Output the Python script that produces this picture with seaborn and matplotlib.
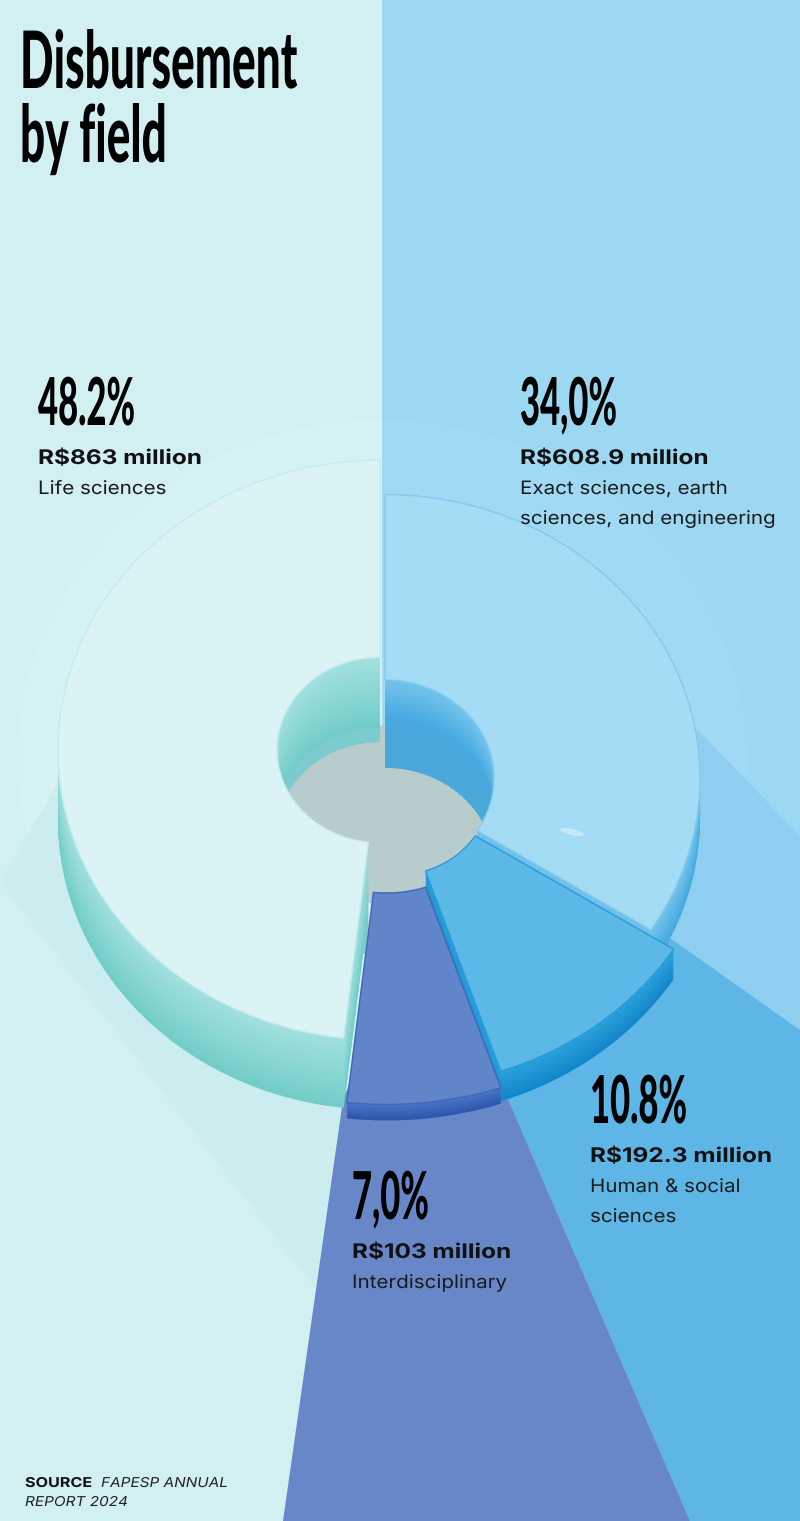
import numpy as np
import matplotlib
matplotlib.use("Agg")
import matplotlib.pyplot as plt
import seaborn as sns
from matplotlib.patches import Polygon, Ellipse, Rectangle
from matplotlib.patheffects import AbstractPathEffect
from matplotlib.transforms import Affine2D

# ---------------- data ----------------
fields = ["Exact sciences, earth\nsciences, and engineering",
          "Human & social\nsciences",
          "Interdisciplinary",
          "Life sciences"]
shares = [34.0, 10.8, 7.0, 48.2]
share_labels = ["34,0%", "10.8%", "7,0%", "48.2%"]
amounts_million = [608.9, 192.3, 103, 863]
title_lines = ["Disbursement", "by field"]
source_head = "SOURCE"
source_lines = ["FAPESP ANNUAL", "REPORT 2024"]

# ---------------- style ----------------
sns.set_theme(style="white")
HEAVY = ["Lato", "Roboto", "DejaVu Sans"]
BODY = ["Inter", "DejaVu Sans"]
plt.rcParams["font.family"] = BODY

W, H = 800, 1521
K = 0.9  # vertical squash of the tilted donut

top_colors = ["#a4dcf5", "#5cb9e7", "#6085c9", "#dcf3f6"]
edge_colors = ["#86c9ee", "#2b9ad6", "#3f67bb", "#c4ebee"]
side_top = ["#74c4ec", "#2aa1dc", "#4a74c6", "#a2e0df"]
side_bottom = ["#45a9df", "#1386ca", "#2d56ae", "#72cdc7"]
wall_colors = ["#4aa8da", "#1386ca", "#2d56ae", "#7ccbcd"]
# per slice geometry in pixels: centre x, centre y, outer R, inner r, height, inner-wall depth
geom = [(385, 778, 315, 109, 40, 88),
        (395, 790, 330, 95, 30, 30),
        (387, 785, 355, 120, 16, 16),
        (380, 750, 322, 103, 70, 85)]
draw_order = [0, 3, 1, 2]

# text anchors (pixels, baseline)
label_pos = [(520, 425), (590, 1123), (352, 1219), (38, 425)]


class Stretch(AbstractPathEffect):
    """Horizontally scale glyph outlines (text stays a Text artist)."""
    def __init__(self, sx):
        super().__init__()
        self.sx = sx

    def draw_path(self, renderer, gc, tpath, affine, rgbFace=None):
        renderer.draw_path(gc, tpath, Affine2D().scale(self.sx, 1.0) + affine, rgbFace)


fig = plt.figure(figsize=(8, 15.21), dpi=100)

# ---------------- background ----------------
bg = fig.add_axes([0, 0, 1, 1], zorder=0)
bg.set_xlim(0, W)
bg.set_ylim(H, 0)
bg.set_axis_off()

def poly(pts, color, alpha=1.0):
    bg.add_patch(Polygon(pts, closed=True, facecolor=color, edgecolor="none", lw=0, alpha=alpha))

poly([(0, 0), (382, 0), (382, H), (0, H)], "#d2eff2")
poly([(382, 0), (W, 0), (W, H), (382, H)], "#9dd8f3")
# faint halo behind donut
for (x0, x1, col) in [(0, 382, "#d6f1f4"), (382, W, "#9fd9f4")]:
    e = Ellipse((382, 760), 2 * 365, 2 * 340, facecolor=col, edgecolor="none")
    bg.add_patch(e)
    e.set_clip_path(Rectangle((x0, 0), x1 - x0, H, transform=bg.transData))
# light beams
poly([(0, 882), (60, 780), (345, 1110), (333, 1311)], "#cbedef")
poly([(697, 729), (800, 836), (800, 1030), (663, 933)], "#8ecfef")
poly([(470, 840), (663, 933), (800, 1030), (800, H), (690, H), (501, 1083)], "#5db6e5")
poly([(343, 1100), (425, 890), (501, 1083), (690, H), (283, H)], "#6887c8")

# ---------------- donut ----------------
ax = fig.add_axes([0, 0, 1, 1], zorder=2)
ax.set_facecolor("none")

def to_data(xp, yp):
    return (xp, (H - yp) / K)

ax.add_patch(Ellipse(to_data(392, 815), 2 * 112, 2 * 90 / K, facecolor="#b9cccd", edgecolor="none"))

def one_wedge(i, R, r, centre, color, ec="none", lw=0.0):
    ws, _ = ax.pie(shares, radius=R, center=centre, startangle=90, counterclock=False,
                   colors=[color] * len(shares), labeldistance=None,
                   wedgeprops=dict(width=R - r, linewidth=lw, edgecolor=ec), frame=True)
    for j, w in enumerate(ws):
        if j != i:
            w.remove()
    return ws[i]

for i in draw_order:
    cx, cy, R, r, h, hw = geom[i]
    # deeper inner wall (only seen through the hole)
    if hw > h:
        for d in np.linspace(hw, h, int((hw - h) / 1.5)):
            one_wedge(i, r + 30, r, to_data(cx, cy + d), wall_colors[i])
    n = max(int(h / 1.5), 2)
    pal = sns.blend_palette([side_bottom[i], side_top[i]], n)
    for k, d in enumerate(np.linspace(h, 1, n)):
        one_wedge(i, R, r, to_data(cx, cy + d), pal[k])
    one_wedge(i, R, r, to_data(cx, cy), top_colors[i], ec=edge_colors[i], lw=1.0)

# small glossy glare on the exact-sciences slice
ax.add_patch(Ellipse(to_data(572, 832), 24, 6 / K, angle=-15, facecolor="white",
                     edgecolor="none", alpha=0.4))

ax.set_aspect("auto")
ax.set_autoscale_on(False)
ax.set_xlim(0, W)
ax.set_ylim(0, H / K)
ax.set_axis_off()

# ---------------- text ----------------
tx = fig.add_axes([0, 0, 1, 1], zorder=3)
tx.set_xlim(0, W)
tx.set_ylim(H, 0)
tx.set_axis_off()
renderer = fig.canvas.get_renderer()

def put(x, y, s, size, family, weight="normal", style="normal", color="black",
        target_w=None, sx=None):
    t = tx.text(x, y, s, fontsize=size, fontweight=weight, fontstyle=style, family=family,
                color=color, ha="left", va="baseline")
    if sx is None and target_w is not None:
        sx = target_w / t.get_window_extent(renderer).width
    if sx is not None:
        t.set_path_effects([Stretch(sx)])
    return sx

sx_title = put(20, 88, title_lines[0], 57, HEAVY, weight="black", target_w=277)
put(20, 162, title_lines[1], 57, HEAVY, weight="black", sx=sx_title)

sx_pct = put(label_pos[3][0], label_pos[3][1], share_labels[3], 47.5, HEAVY,
             weight="black", target_w=97)
sx_bold = None
sx_reg = None
for i in [3, 0, 1, 2]:
    x, y = label_pos[i]
    if i != 3:
        put(x, y, share_labels[i], 47.5, HEAVY, weight="black", sx=sx_pct)
    amt = f"R${amounts_million[i]:g} million"
    if sx_bold is None:
        sx_bold = put(x, y + 39, amt, 14.5, BODY, weight="bold", color="#111111", target_w=164)
    else:
        put(x, y + 39, amt, 14.5, BODY, weight="bold", color="#111111", sx=sx_bold)
for i in [0, 3, 1, 2]:
    x, y = label_pos[i]
    for li, line in enumerate(fields[i].split("\n")):
        if sx_reg is None:
            sx_reg = put(x, y + 69 + li * 30, line, 13.3, BODY, color="#1a1a1a", target_w=207)
        else:
            put(x, y + 69 + li * 30, line, 13.3, BODY, color="#1a1a1a", sx=sx_reg)

sx_src = put(101, 1487, source_lines[0], 9.8, BODY, style="italic", color="#222222",
             target_w=127)
put(25, 1506, source_lines[1], 9.8, BODY, style="italic", color="#222222", sx=sx_src)
put(25, 1487, source_head, 9.8, BODY, weight="bold", color="#111111", target_w=67)

fig.savefig("out.png", dpi=100)
